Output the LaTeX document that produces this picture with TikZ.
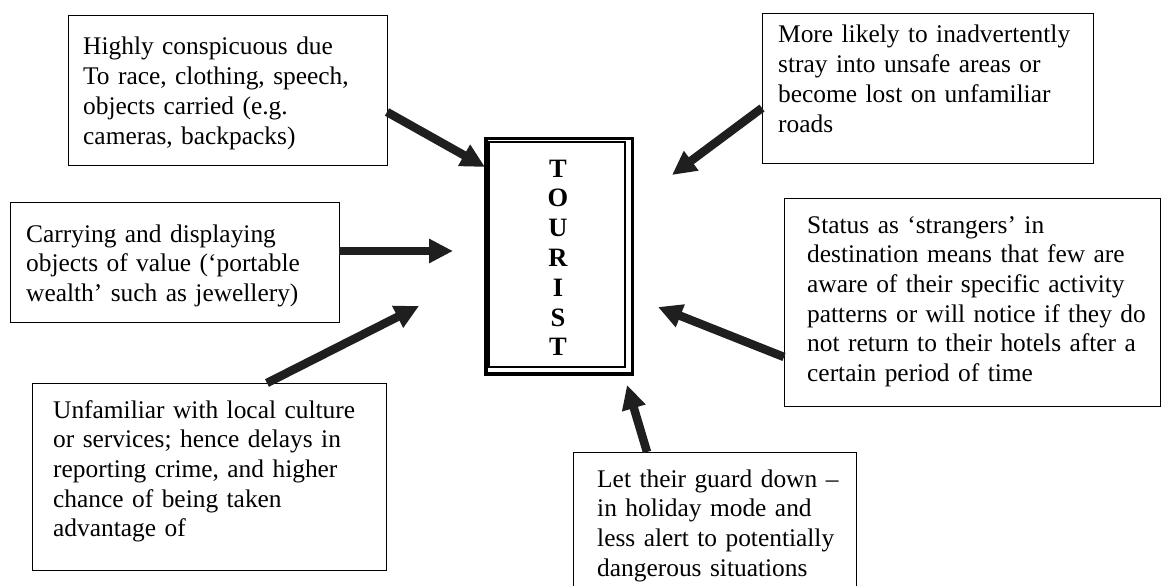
\documentclass[tikz,border=0pt]{standalone}
\usepackage{fontspec}
\setmainfont{Liberation Serif}
\usetikzlibrary{arrows.meta}
\begin{document}
\begin{tikzpicture}[x=1pt,y=-1pt,
  box/.style={draw=black, line width=1.2pt, inner sep=0pt, anchor=north west},
  txt/.style={anchor=base west, inner sep=0pt, align=left, text width=360pt,
    font=\fontsize{25.4}{29.7}\selectfont},
  bigarrow/.style={line width=8.5pt, -{Triangle[length=24pt,width=23pt]}, black!88}
]
\useasboundingbox (0,0) rectangle (1162,586);

% outer boxes
\node[box, minimum width=319pt, minimum height=150pt] (b1) at (68,15) {};
\node[box, minimum width=329pt, minimum height=120pt] (b2) at (10,202) {};
\node[box, minimum width=354pt, minimum height=187pt] (b3) at (32,383) {};
\node[box, minimum width=331pt, minimum height=150pt] (b4) at (762,13) {};
\node[box, minimum width=376pt, minimum height=208pt] (b5) at (784,198) {};
\node[box, minimum width=283pt, minimum height=140pt] (b6) at (573,452) {};

% box texts
\node[txt] (t1) at (83,55) {Highly conspicuous due\\To race, clothing, speech,\\objects carried (e.g.\\cameras, backpacks)};
\node[txt] (t2) at (26,242) {Carrying and displaying\\objects of value (‘portable\\wealth’ such as jewellery)};
\node[txt] (t3) at (53,418) {Unfamiliar with local culture\\or services; hence delays in\\reporting crime, and higher\\chance of being taken\\advantage of};
\node[txt] (t4) at (778,43) {More likely to inadvertently\\stray into unsafe areas or\\become lost on unfamiliar\\roads};
\node[txt] (t5) at (807,233) {Status as ‘strangers’ in\\destination means that few are\\aware of their specific activity\\patterns or will notice if they do\\not return to their hotels after a\\certain period of time};
\node[txt] (t6) at (597,487) {Let their guard down –\\in holiday mode and\\less alert to potentially\\dangerous situations};

% central box with thick-thin double frame
\node[draw=black, line width=3.3pt, inner sep=0pt, anchor=north west,
  minimum width=146.7pt, minimum height=235.6pt] (tourist) at (484.3,136.7) {};
\draw[line width=2.3pt] (488.8,142) rectangle (625,366.7);
\node[anchor=base, inner sep=0pt, align=center, text width=40pt,
  font=\fontsize{26.5}{29.8}\selectfont\bfseries] (word) at (558,177)
  {T\\O\\U\\R\\I\\S\\T};

% arrow end points
\coordinate (s1) at (387,112);  \coordinate (e1) at (485,167);
\coordinate (s2) at (339,251);  \coordinate (e2) at (453,251);
\coordinate (s3) at (267,383);  \coordinate (e3) at (419,306);
\coordinate (s4) at (762,108);  \coordinate (e4) at (672,175);
\coordinate (s5) at (784,357);  \coordinate (e5) at (658,307);
\coordinate (s6) at (647,452);  \coordinate (e6) at (627,385);

\draw[bigarrow] (s1) -- (e1);
\draw[bigarrow] (s2) -- (e2);
\draw[bigarrow] (s3) -- (e3);
\draw[bigarrow] (s4) -- (e4);
\draw[bigarrow] (s5) -- (e5);
\draw[bigarrow] (s6) -- (e6);
\end{tikzpicture}
\end{document}
